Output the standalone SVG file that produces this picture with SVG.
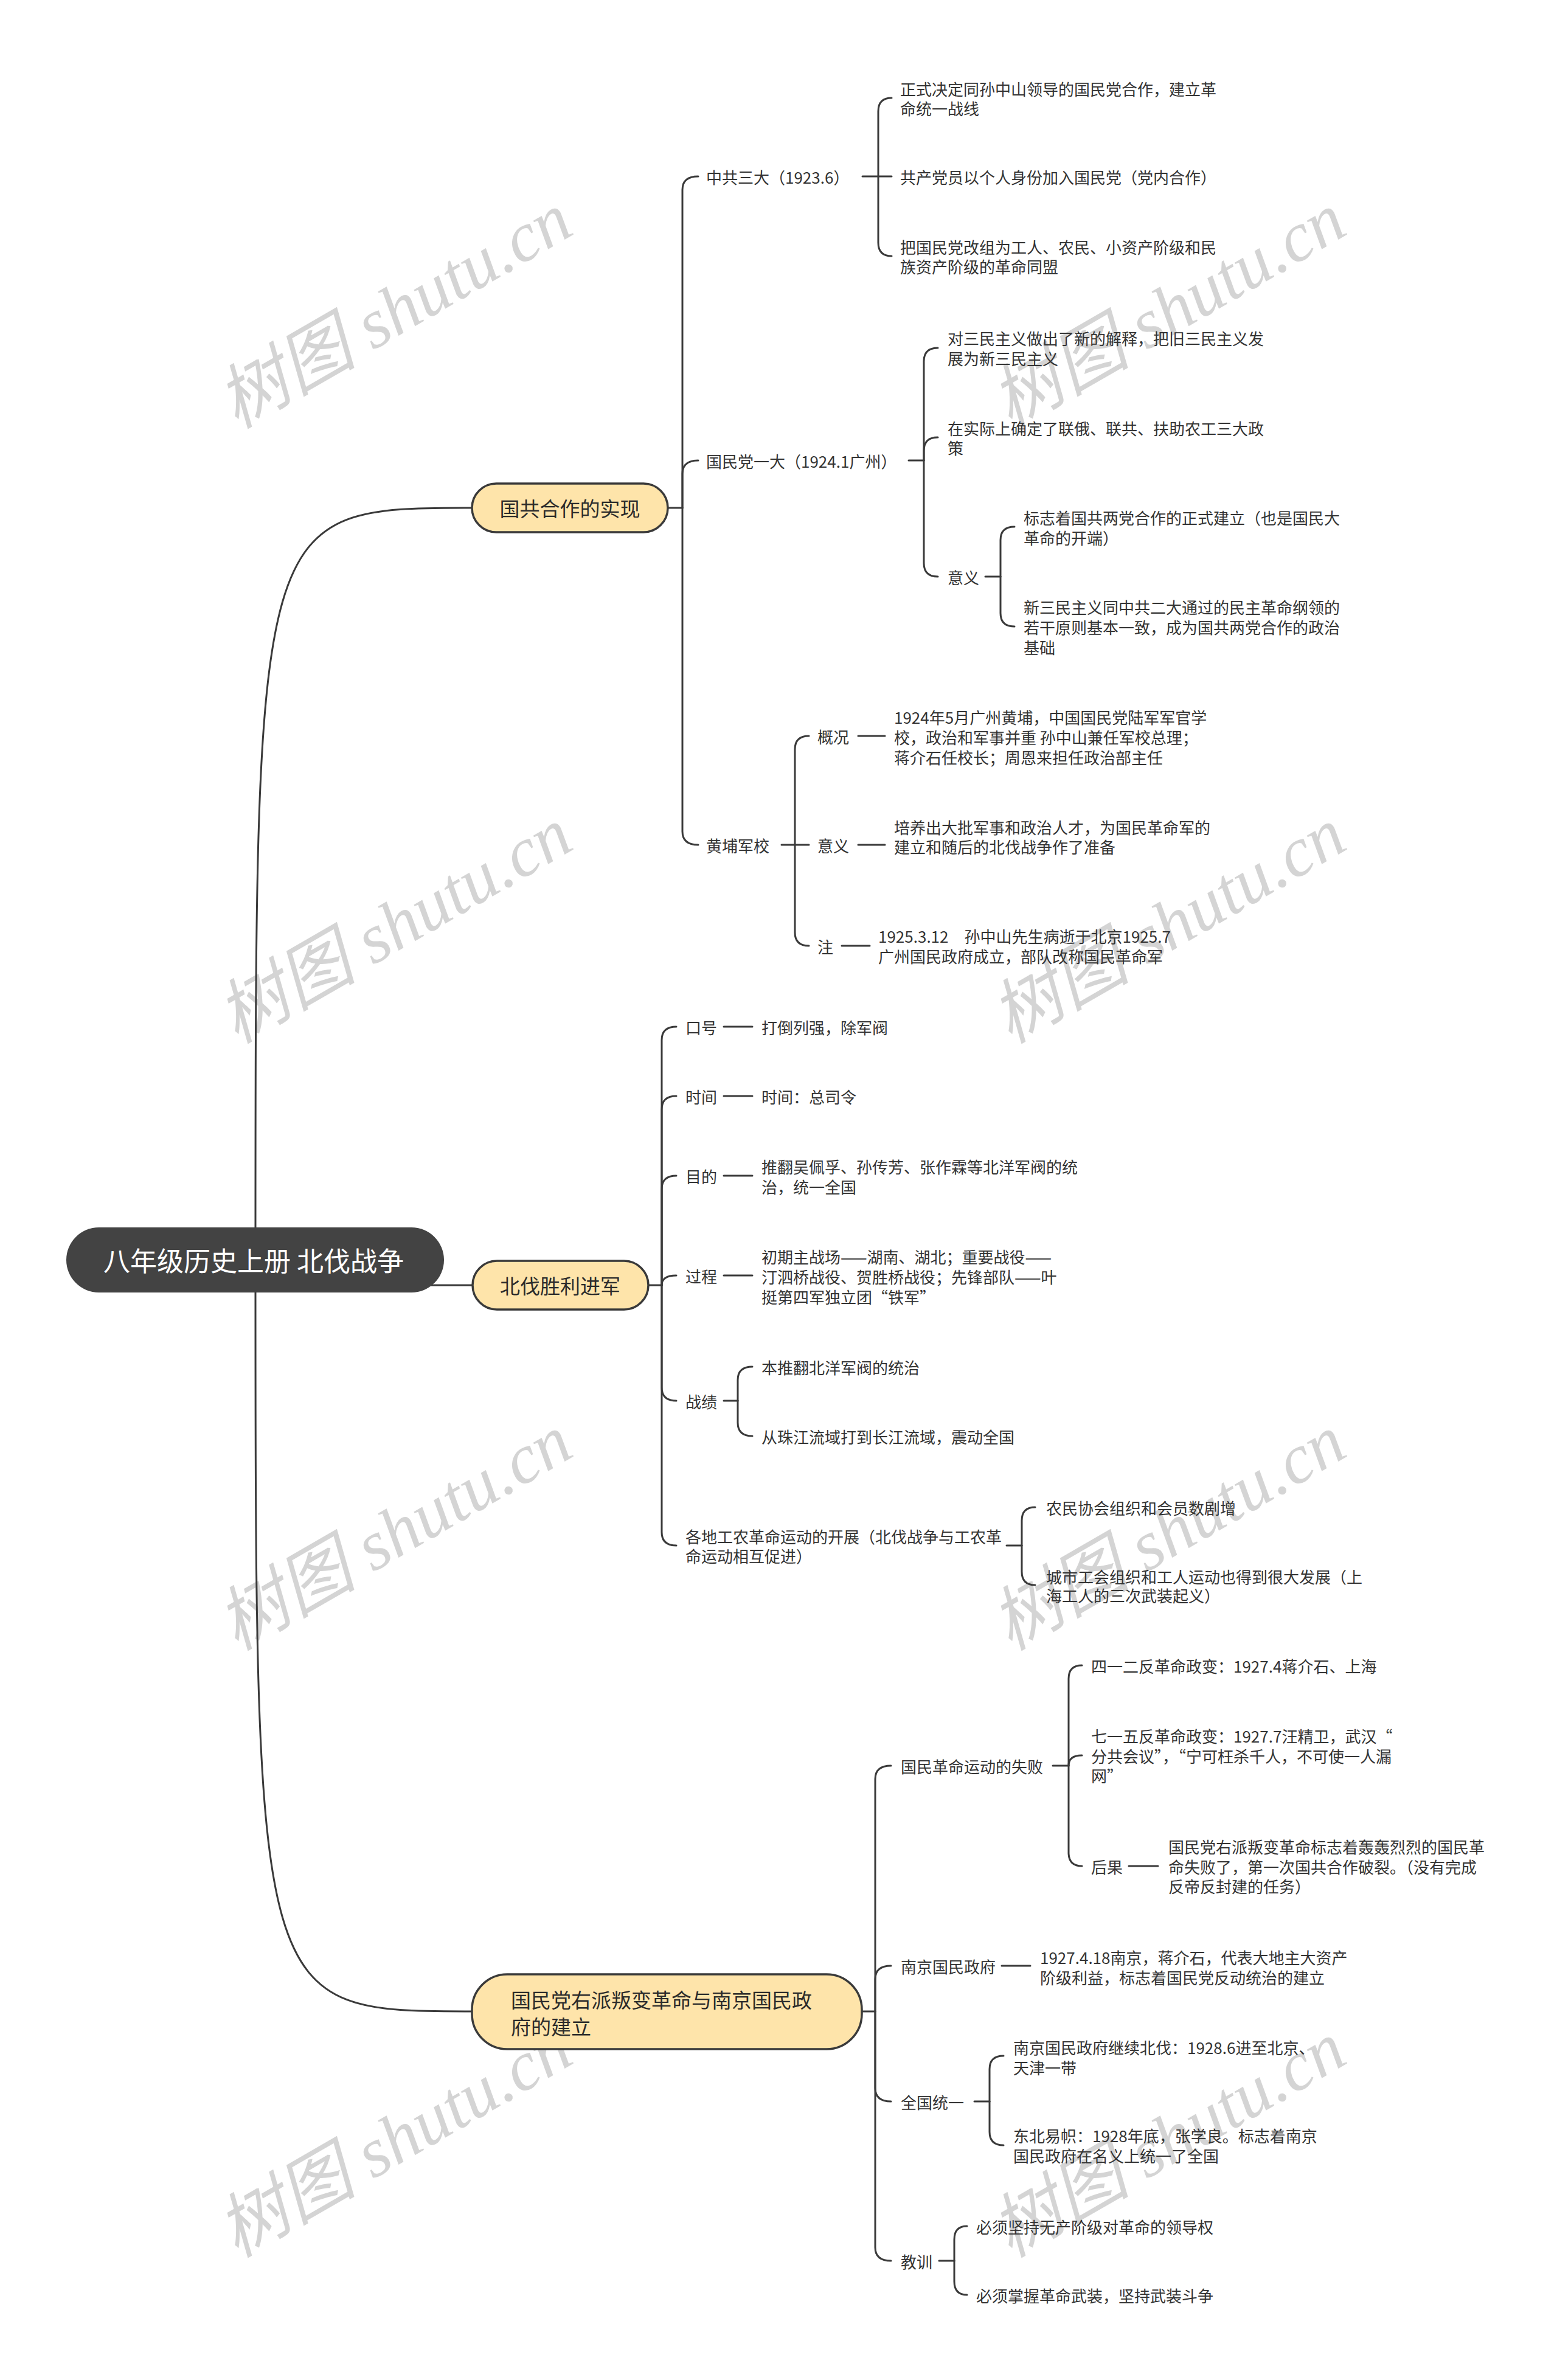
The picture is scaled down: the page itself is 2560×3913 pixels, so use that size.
<svg xmlns="http://www.w3.org/2000/svg" width="2560" height="3913" viewBox="0 0 2560 3913">
<style>
.bg{fill:#ffffff}
.wm{font-family:"Liberation Serif","Noto Sans CJK SC",serif;font-style:italic;font-size:115px;fill:#d4d4d4;text-anchor:middle;dominant-baseline:central}
.c{fill:none;stroke:#3a3a3a;stroke-width:3;stroke-linecap:round}
.t{font-family:"Noto Sans CJK SC","Liberation Sans",sans-serif;font-size:26px;fill:#333333;dominant-baseline:central}
.l1{fill:#fee4aa;stroke:#3a3a3a;stroke-width:3.5}
.l1t{font-family:"Noto Sans CJK SC","Liberation Sans",sans-serif;font-size:33px;fill:#2b2b2b;dominant-baseline:central}
.rt{fill:#434343}
.rtt{font-family:"Noto Sans CJK SC","Liberation Sans",sans-serif;font-size:44px;fill:#ffffff;dominant-baseline:central;text-anchor:middle}
</style>
<rect class="bg" x="0" y="0" width="2560" height="3913"/>
<g id="watermarks">
<text class="wm" transform="translate(649,511) rotate(-30)">树图 shutu.cn</text>
<text class="wm" transform="translate(1921,511) rotate(-30)">树图 shutu.cn</text>
<text class="wm" transform="translate(649,1522) rotate(-30)">树图 shutu.cn</text>
<text class="wm" transform="translate(1921,1522) rotate(-30)">树图 shutu.cn</text>
<text class="wm" transform="translate(649,2520) rotate(-30)">树图 shutu.cn</text>
<text class="wm" transform="translate(1921,2520) rotate(-30)">树图 shutu.cn</text>
<text class="wm" transform="translate(649,3518) rotate(-30)">树图 shutu.cn</text>
<text class="wm" transform="translate(1921,3518) rotate(-30)">树图 shutu.cn</text>
</g>
<g id="connectors">
<path class="c" d="M420,2071 C420,835 420,835 776,835"/>
<path class="c" d="M420,2071 C420,3307 420,3307 776,3307"/>
<path class="c" d="M690,2113 H777"/>
<path class="c" d="M1098,835 H1122"/>
<path class="c" d="M1122,835 V312 Q1122,290 1148,290"/>
<path class="c" d="M1122,835 V779 Q1122,757 1148,757"/>
<path class="c" d="M1122,835 V1367 Q1122,1389 1148,1389"/>
<path class="c" d="M1418,290 H1444"/>
<path class="c" d="M1444,290 V183 Q1444,161 1466,161"/>
<path class="c" d="M1444,290 H1466"/>
<path class="c" d="M1444,290 V399 Q1444,421 1466,421"/>
<path class="c" d="M1494,757 H1519"/>
<path class="c" d="M1519,757 V594 Q1519,572 1542,572"/>
<path class="c" d="M1519,757 V741 Q1519,719 1542,719"/>
<path class="c" d="M1519,757 V926 Q1519,948 1542,948"/>
<path class="c" d="M1620,948 H1645"/>
<path class="c" d="M1645,948 V888 Q1645,866 1668,866"/>
<path class="c" d="M1645,948 V1008 Q1645,1030 1668,1030"/>
<path class="c" d="M1285,1389 H1307"/>
<path class="c" d="M1307,1389 V1232 Q1307,1210 1330,1210"/>
<path class="c" d="M1307,1389 H1330"/>
<path class="c" d="M1307,1389 V1533 Q1307,1555 1330,1555"/>
<path class="c" d="M1411,1210 H1455"/>
<path class="c" d="M1411,1389 H1455"/>
<path class="c" d="M1384,1555 H1430"/>
<path class="c" d="M1066,2113 H1088"/>
<path class="c" d="M1088,2113 V1710 Q1088,1688 1112,1688"/>
<path class="c" d="M1088,2113 V1824 Q1088,1802 1112,1802"/>
<path class="c" d="M1088,2113 V1955 Q1088,1933 1112,1933"/>
<path class="c" d="M1088,2113 Q1088,2097 1112,2097"/>
<path class="c" d="M1088,2113 V2281 Q1088,2303 1112,2303"/>
<path class="c" d="M1088,2113 V2519 Q1088,2541 1112,2541"/>
<path class="c" d="M1190,1688 H1237"/>
<path class="c" d="M1190,1802 H1237"/>
<path class="c" d="M1190,1933 H1237"/>
<path class="c" d="M1190,2097 H1237"/>
<path class="c" d="M1190,2303 H1213"/>
<path class="c" d="M1213,2303 V2269 Q1213,2247 1237,2247"/>
<path class="c" d="M1213,2303 V2339 Q1213,2361 1237,2361"/>
<path class="c" d="M1655,2541 H1680"/>
<path class="c" d="M1680,2541 V2500 Q1680,2478 1702,2478"/>
<path class="c" d="M1680,2541 V2584 Q1680,2606 1702,2606"/>
<path class="c" d="M1417,3307 H1439"/>
<path class="c" d="M1439,3307 V2925 Q1439,2903 1465,2903"/>
<path class="c" d="M1439,3307 V3254 Q1439,3232 1465,3232"/>
<path class="c" d="M1439,3307 V3433 Q1439,3455 1465,3455"/>
<path class="c" d="M1439,3307 V3695 Q1439,3717 1465,3717"/>
<path class="c" d="M1731,2903 H1757"/>
<path class="c" d="M1757,2903 V2760 Q1757,2738 1779,2738"/>
<path class="c" d="M1757,2903 Q1757,2886 1779,2886"/>
<path class="c" d="M1757,2903 V3046 Q1757,3068 1779,3068"/>
<path class="c" d="M1856,3068 H1904"/>
<path class="c" d="M1647,3232 H1694"/>
<path class="c" d="M1602,3455 H1627"/>
<path class="c" d="M1627,3455 V3402 Q1627,3380 1650,3380"/>
<path class="c" d="M1627,3455 V3505 Q1627,3527 1650,3527"/>
<path class="c" d="M1544,3717 H1569"/>
<path class="c" d="M1569,3717 V3682 Q1569,3660 1590,3660"/>
<path class="c" d="M1569,3717 V3751 Q1569,3773 1590,3773"/>
</g>
<g id="n-root">
<rect class="rt" x="109" y="2018" width="621" height="107" rx="53.5"/>
<text class="rtt" x="417" y="2071">八年级历史上册 北伐战争</text>
</g>
<g id="n-a">
<rect class="l1" x="776" y="795" width="322" height="80" rx="40"/>
<text class="l1t" x="937" y="835" text-anchor="middle">国共合作的实现</text>
</g>
<g id="n-b">
<rect class="l1" x="777" y="2073" width="289" height="80" rx="40"/>
<text class="l1t" x="921" y="2113" text-anchor="middle">北伐胜利进军</text>
</g>
<g id="n-c">
<rect class="l1" x="776" y="3246" width="641" height="123" rx="58"/>
<text class="l1t" x="840"><tspan x="840" y="3287">国民党右派叛变革命与南京国民政</tspan><tspan x="840" y="3331">府的建立</tspan></text>
</g>
<g id="n-a1"><text class="t" x="1161" y="290">中共三大（1923.6）</text></g>
<g id="n-a1-1"><text class="t"><tspan x="1480" y="145">正式决定同孙中山领导的国民党合作，建立革</tspan><tspan x="1480" y="177">命统一战线</tspan></text></g>
<g id="n-a1-2"><text class="t" x="1480" y="290">共产党员以个人身份加入国民党（党内合作）</text></g>
<g id="n-a1-3"><text class="t"><tspan x="1480" y="405">把国民党改组为工人、农民、小资产阶级和民</tspan><tspan x="1480" y="437">族资产阶级的革命同盟</tspan></text></g>
<g id="n-a2"><text class="t" x="1161" y="757">国民党一大（1924.1广州）</text></g>
<g id="n-a2-1"><text class="t"><tspan x="1558" y="555">对三民主义做出了新的解释，把旧三民主义发</tspan><tspan x="1558" y="588">展为新三民主义</tspan></text></g>
<g id="n-a2-2"><text class="t"><tspan x="1558" y="703">在实际上确定了联俄、联共、扶助农工三大政</tspan><tspan x="1558" y="735">策</tspan></text></g>
<g id="n-a2-3"><text class="t" x="1558" y="948">意义</text></g>
<g id="n-a2-3-1"><text class="t"><tspan x="1683" y="850">标志着国共两党合作的正式建立（也是国民大</tspan><tspan x="1683" y="883">革命的开端）</tspan></text></g>
<g id="n-a2-3-2"><text class="t"><tspan x="1683" y="997">新三民主义同中共二大通过的民主革命纲领的</tspan><tspan x="1683" y="1030">若干原则基本一致，成为国共两党合作的政治</tspan><tspan x="1683" y="1063">基础</tspan></text></g>
<g id="n-a3"><text class="t" x="1161" y="1389">黄埔军校</text></g>
<g id="n-a3-1"><text class="t" x="1344" y="1210">概况</text></g>
<g id="n-a3-1-1"><text class="t"><tspan x="1470" y="1178">1924年5月广州黄埔，中国国民党陆军军官学</tspan><tspan x="1470" y="1211">校，政治和军事并重 孙中山兼任军校总理；</tspan><tspan x="1470" y="1244">蒋介石任校长；周恩来担任政治部主任</tspan></text></g>
<g id="n-a3-2"><text class="t" x="1344" y="1389">意义</text></g>
<g id="n-a3-2-1"><text class="t"><tspan x="1470" y="1359">培养出大批军事和政治人才，为国民革命军的</tspan><tspan x="1470" y="1391">建立和随后的北伐战争作了准备</tspan></text></g>
<g id="n-a3-3"><text class="t" x="1344" y="1555">注</text></g>
<g id="n-a3-3-1"><text class="t"><tspan x="1444" y="1538">1925.3.12　孙中山先生病逝于北京1925.7</tspan><tspan x="1444" y="1571">广州国民政府成立，部队改称国民革命军</tspan></text></g>
<g id="n-b1"><text class="t" x="1127" y="1688">口号</text></g>
<g id="n-b1-1"><text class="t" x="1252" y="1688">打倒列强，除军阀</text></g>
<g id="n-b2"><text class="t" x="1127" y="1802">时间</text></g>
<g id="n-b2-1"><text class="t" x="1252" y="1802">时间：总司令</text></g>
<g id="n-b3"><text class="t" x="1127" y="1933">目的</text></g>
<g id="n-b3-1"><text class="t"><tspan x="1252" y="1917">推翻吴佩孚、孙传芳、张作霖等北洋军阀的统</tspan><tspan x="1252" y="1950">治，统一全国</tspan></text></g>
<g id="n-b4"><text class="t" x="1127" y="2097">过程</text></g>
<g id="n-b4-1"><text class="t"><tspan x="1252" y="2065">初期主战场——湖南、湖北；重要战役——</tspan><tspan x="1252" y="2098">汀泗桥战役、贺胜桥战役；先锋部队——叶</tspan><tspan x="1252" y="2131">挺第四军独立团“铁军”</tspan></text></g>
<g id="n-b5"><text class="t" x="1127" y="2303">战绩</text></g>
<g id="n-b5-1"><text class="t" x="1252" y="2247">本推翻北洋军阀的统治</text></g>
<g id="n-b5-2"><text class="t" x="1252" y="2361">从珠江流域打到长江流域，震动全国</text></g>
<g id="n-b6"><text class="t"><tspan x="1127" y="2525">各地工农革命运动的开展（北伐战争与工农革</tspan><tspan x="1127" y="2557">命运动相互促进）</tspan></text></g>
<g id="n-b6-1"><text class="t" x="1720" y="2478">农民协会组织和会员数剧增</text></g>
<g id="n-b6-2"><text class="t"><tspan x="1720" y="2591">城市工会组织和工人运动也得到很大发展（上</tspan><tspan x="1720" y="2622">海工人的三次武装起义）</tspan></text></g>
<g id="n-c1"><text class="t" x="1481" y="2903">国民革命运动的失败</text></g>
<g id="n-c1-1"><text class="t" x="1794" y="2738">四一二反革命政变：1927.4蒋介石、上海</text></g>
<g id="n-c1-2"><text class="t"><tspan x="1794" y="2853">七一五反革命政变：1927.7汪精卫，武汉“</tspan><tspan x="1794" y="2886">分共会议”，“宁可枉杀千人，不可使一人漏</tspan><tspan x="1794" y="2918">网”</tspan></text></g>
<g id="n-c1-3"><text class="t" x="1794" y="3068">后果</text></g>
<g id="n-c1-3-1"><text class="t"><tspan x="1921" y="3035">国民党右派叛变革命标志着轰轰烈烈的国民革</tspan><tspan x="1921" y="3068">命失败了，第一次国共合作破裂。（没有完成</tspan><tspan x="1921" y="3100">反帝反封建的任务）</tspan></text></g>
<g id="n-c2"><text class="t" x="1481" y="3232">南京国民政府</text></g>
<g id="n-c2-1"><text class="t"><tspan x="1710" y="3217">1927.4.18南京，蒋介石，代表大地主大资产</tspan><tspan x="1710" y="3250">阶级利益，标志着国民党反动统治的建立</tspan></text></g>
<g id="n-c3"><text class="t" x="1481" y="3455">全国统一</text></g>
<g id="n-c3-1"><text class="t"><tspan x="1666" y="3365">南京国民政府继续北伐：1928.6进至北京、</tspan><tspan x="1666" y="3398">天津一带</tspan></text></g>
<g id="n-c3-2"><text class="t"><tspan x="1666" y="3510">东北易帜：1928年底，张学良。标志着南京</tspan><tspan x="1666" y="3543">国民政府在名义上统一了全国</tspan></text></g>
<g id="n-c4"><text class="t" x="1481" y="3717">教训</text></g>
<g id="n-c4-1"><text class="t" x="1605" y="3660">必须坚持无产阶级对革命的领导权</text></g>
<g id="n-c4-2"><text class="t" x="1605" y="3773">必须掌握革命武装，坚持武装斗争</text></g>
</svg>
